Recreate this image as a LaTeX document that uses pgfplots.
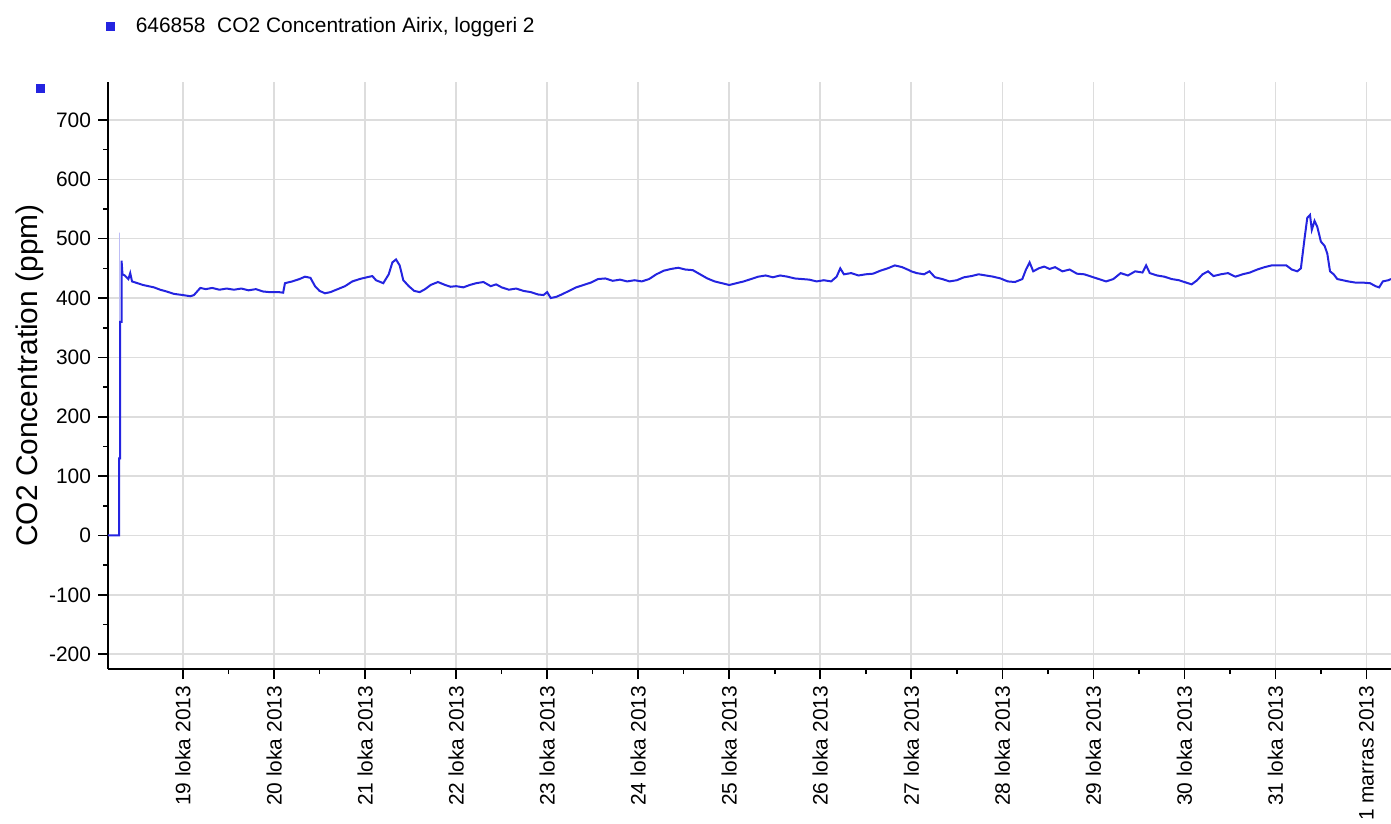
\documentclass[border=0pt]{standalone}
\usepackage{pgfplots}
\pgfplotsset{compat=1.18}
\usepackage{fontspec}
\setmainfont{Liberation Sans}
\definecolor{co2blue}{RGB}{36,36,224}
\definecolor{gridgray}{RGB}{221,221,221}

\begin{document}
\begin{tikzpicture}
\begin{axis}[
    name=ax,
    scale only axis,
    width=641.5bp, height=293.5bp,
    xmin=18.176, xmax=32.27,
    ymin=-225, ymax=764,
    axis x line*=bottom,
    axis y line*=left,
    axis line style={line width=0.8bp, -},
    tick align=outside,
    tick style={black, line width=0.8bp},
    major tick length=5bp,
    minor tick length=2.5bp,
    xtick={19,20,21,22,23,24,25,26,27,28,29,30,31,32},
    xticklabels={19 loka 2013,20 loka 2013,21 loka 2013,22 loka 2013,23 loka 2013,24 loka 2013,25 loka 2013,26 loka 2013,27 loka 2013,28 loka 2013,29 loka 2013,30 loka 2013,31 loka 2013,1 marras 2013},
    ytick={-200,-100,0,100,200,300,400,500,600,700},
    minor x tick num=1,
    minor y tick num=1,
    xticklabel style={rotate=90, anchor=east, font=\fontsize{10.5}{12}\selectfont},
    yticklabel style={font=\fontsize{10.5}{12}\selectfont},
    /pgf/number format/assume math mode=true,
    scaled y ticks=false,
    xmajorgrids=true, ymajorgrids=true,
    grid style={gridgray, line width=0.8bp},
    ylabel={CO2 Concentration (ppm)},
    ylabel style={at={(axis description cs:-0.061,0.5)}, rotate=0, anchor=center, font=\fontsize{15}{17}\selectfont},
    legend style={draw=none, fill=none, at={(axis description cs:-0.002,1.095)}, anchor=west,
        font=\fontsize{10.5}{12}\selectfont, inner sep=0pt},
    legend image code/.code={\fill[co2blue, draw=none] (0bp,-2.25bp) rectangle (4.5bp,2.25bp); \path[draw=none] (0bp,0bp) -- (13bp,0bp);},
]
\addplot[color=co2blue!30, line width=0.6bp, forget plot] coordinates {
    (18.303,130)(18.303,510)(18.303,130)
};
\addplot[color=co2blue, line width=1bp] coordinates {
    (18.176,0)(18.297,0)(18.297,130)(18.31,130)(18.31,360)(18.325,360)(18.325,463)
    (18.335,440)(18.36,438)(18.40,432)(18.42,442)(18.44,428)(18.50,425)(18.56,422)
    (18.62,420)(18.68,418)(18.75,414)(18.82,411)(18.90,407)(19.00,405)(19.08,403)
    (19.12,405)(19.19,417)(19.25,415)(19.32,417)(19.40,414)(19.48,416)(19.56,414)
    (19.64,416)(19.72,413)(19.80,415)(19.88,411)(19.95,410)(20.05,410)(20.10,409)
    (20.12,425)(20.20,428)(20.28,432)(20.34,436)(20.40,434)(20.45,420)(20.50,412)
    (20.56,408)(20.62,410)(20.70,415)(20.78,420)(20.86,428)(20.94,432)(21.02,435)
    (21.08,437)(21.12,430)(21.20,425)(21.26,440)(21.30,460)(21.34,465)(21.38,455)
    (21.42,430)(21.48,420)(21.54,412)(21.60,410)(21.66,415)(21.72,422)(21.80,427)
    (21.88,422)(21.94,419)(22.00,420)(22.08,418)(22.15,422)(22.22,425)(22.30,427)
    (22.38,420)(22.44,423)(22.50,418)(22.58,414)(22.66,416)(22.74,412)(22.82,410)
    (22.90,406)(22.96,405)(23.00,410)(23.04,400)(23.10,402)(23.16,406)(23.24,412)
    (23.32,418)(23.40,422)(23.48,426)(23.56,432)(23.64,433)(23.72,429)(23.80,431)
    (23.88,428)(23.96,430)(24.04,428)(24.12,432)(24.20,440)(24.28,446)(24.36,449)
    (24.44,451)(24.52,448)(24.60,447)(24.68,440)(24.76,433)(24.84,428)(24.92,425)
    (25.00,422)(25.08,425)(25.16,428)(25.24,432)(25.32,436)(25.40,438)(25.48,435)
    (25.56,438)(25.64,436)(25.72,433)(25.80,432)(25.88,431)(25.96,428)(26.04,430)
    (26.12,428)(26.18,436)(26.22,450)(26.26,440)(26.34,442)(26.42,438)(26.50,440)
    (26.58,441)(26.66,446)(26.74,450)(26.82,455)(26.90,452)(26.96,448)(27.00,445)
    (27.06,442)(27.14,440)(27.20,445)(27.26,435)(27.34,432)(27.42,428)(27.50,430)
    (27.58,435)(27.66,437)(27.74,440)(27.82,438)(27.90,436)(27.98,433)(28.06,428)
    (28.14,427)(28.22,432)(28.26,448)(28.30,460)(28.34,445)(28.40,450)(28.46,453)
    (28.52,449)(28.58,452)(28.66,445)(28.74,448)(28.82,441)(28.90,440)(28.98,436)
    (29.06,432)(29.14,428)(29.22,432)(29.30,442)(29.38,438)(29.46,445)(29.54,443)
    (29.58,455)(29.62,442)(29.70,438)(29.78,436)(29.86,432)(29.94,430)(30.00,427)
    (30.08,423)(30.14,430)(30.20,440)(30.26,445)(30.32,437)(30.40,440)(30.48,442)
    (30.56,436)(30.64,440)(30.72,443)(30.80,448)(30.88,452)(30.96,455)(31.04,455)
    (31.12,455)(31.18,448)(31.24,445)(31.28,450)(31.32,500)(31.35,535)(31.38,540)
    (31.40,515)(31.43,530)(31.46,520)(31.50,495)(31.54,488)(31.57,475)(31.60,445)
    (31.64,440)(31.68,432)(31.74,430)(31.80,428)(31.88,426)(31.96,426)(32.04,425)
    (32.10,420)(32.14,418)(32.18,428)(32.24,430)(32.27,432)
};
\addlegendentry{646858\ \ CO2 Concentration Airix, loggeri 2}
\end{axis}
\fill[co2blue] ([xshift=-36bp,yshift=-0.8bp]ax.north west) rectangle ([xshift=-31.5bp,yshift=-5.3bp]ax.north west);
\pgfresetboundingbox
\path ([xshift=-54bp,yshift=-77.5bp]ax.south west) rectangle ([yshift=41bp]ax.north east);
\end{tikzpicture}
\end{document}
